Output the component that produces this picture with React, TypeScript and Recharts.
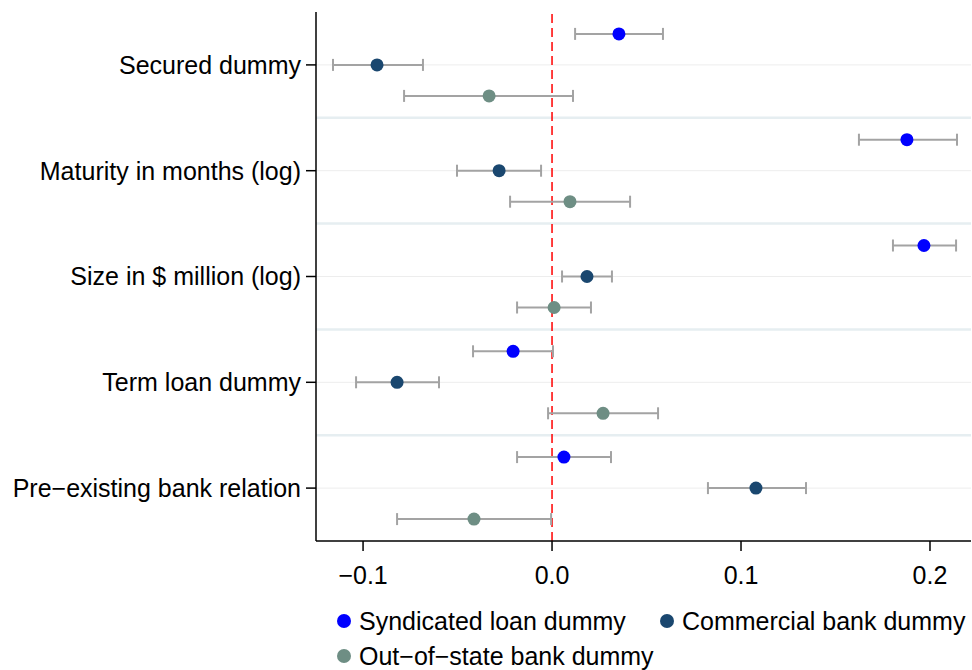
import React from 'react'
import {
    ScatterChart,
    Scatter,
    XAxis,
    YAxis,
    ErrorBar,
    ReferenceLine
} from 'recharts'

// regressors, top to bottom
const variables = [
    'Secured dummy',
    'Maturity in months (log)',
    'Size in $ million (log)',
    'Term loan dummy',
    'Pre\u2212existing bank relation'
]

// point estimates and confidence bounds per model
const syndCoef = [0.0354, 0.1878, 0.1968, -0.0206, 0.0063]
const syndLow = [0.0122, 0.1624, 0.1804, -0.0418, -0.0185]
const syndHigh = [0.0587, 0.2143, 0.2138, 0.0005, 0.0312]

const commCoef = [-0.0926, -0.028, 0.0185, -0.082, 0.1079]
const commLow = [-0.1159, -0.0503, 0.0053, -0.1037, 0.0825]
const commHigh = [-0.0683, -0.0058, 0.0317, -0.0598, 0.1344]

const oosCoef = [-0.0333, 0.0095, 0.0011, 0.027, -0.0413]
const oosLow = [-0.0783, -0.0222, -0.0185, -0.0021, -0.082]
const oosHigh = [0.0111, 0.0413, 0.0206, 0.0561, -0.0005]

const xTicks = [-0.1, 0, 0.1, 0.2]

const FONT = '"Liberation Sans", Arial, Helvetica, sans-serif'
const BAR_GRAY = '#a3a3a3'

const series = [
    { name: 'Syndicated loan dummy', color: '#0000ff', coef: syndCoef, low: syndLow, high: syndHigh, shift: -0.293 },
    { name: 'Commercial bank dummy', color: '#1a476f', coef: commCoef, low: commLow, high: commHigh, shift: 0 },
    { name: 'Out\u2212of\u2212state bank dummy', color: '#6e8e84', coef: oosCoef, low: oosLow, high: oosHigh, shift: 0.293 }
]

function buildPoints(coef: number[], low: number[], high: number[], shift: number) {
    return coef.map((c, i) => ({
        x: c,
        y: i + 0.5 + shift,
        err: [c - low[i], high[i] - c]
    }))
}

const fmtX = (v: number) => (v < 0 ? '\u2212' + Math.abs(v).toFixed(1) : v.toFixed(1))

function Dot(color: string) {
    return (props: any) => <circle cx={props.cx} cy={props.cy} r={6.5} fill={color} />
}

export default function App() {
    return (
        <div style={{ position: 'relative', width: 972, height: 670, fontFamily: FONT, background: '#fff' }}>
            <style>{'body { margin: 0; }'}</style>
            <ScatterChart
                width={972}
                height={591}
                margin={{ top: 12, right: 1, bottom: 0, left: 0 }}
            >
                <XAxis
                    type="number"
                    dataKey="x"
                    domain={[-0.1249, 0.2217]}
                    allowDataOverflow
                    ticks={xTicks}
                    tickFormatter={fmtX}
                    height={50}
                    tickSize={10}
                    tickMargin={15}
                    stroke="#000"
                    strokeWidth={1.5}
                    tick={{ fill: '#000', fontSize: 25, fontFamily: FONT }}
                />
                <YAxis
                    type="number"
                    dataKey="y"
                    domain={[0, 5]}
                    reversed
                    ticks={[0.5, 1.5, 2.5, 3.5, 4.5]}
                    tickFormatter={(v: number) => variables[Math.floor(v)]}
                    width={316}
                    tickSize={10}
                    tickMargin={5}
                    stroke="#000"
                    strokeWidth={1.5}
                    interval={0}
                    tick={{ fill: '#000', fontSize: 25, fontFamily: FONT }}
                />
                {[0.5, 1.5, 2.5, 3.5, 4.5].map((v) => (
                    <ReferenceLine key={'c' + v} y={v} stroke="#ededed" strokeWidth={1} />
                ))}
                {[1, 2, 3, 4].map((v) => (
                    <ReferenceLine key={'s' + v} y={v} stroke="#e6eef1" strokeWidth={2.5} />
                ))}
                <ReferenceLine x={0} stroke="#ff0000" strokeWidth={1.5} strokeDasharray="9 5" />
                {series.map((s) => (
                    <Scatter
                        key={s.name}
                        name={s.name}
                        data={buildPoints(s.coef, s.low, s.high, s.shift)}
                        fill={s.color}
                        shape={Dot(s.color)}
                        isAnimationActive={false}
                    >
                        <ErrorBar
                            dataKey="err"
                            direction="x"
                            width={6}
                            stroke={BAR_GRAY}
                            strokeWidth={2}
                        />
                    </Scatter>
                ))}
            </ScatterChart>
            {/* legend, two rows */}
            {series.map((s, i) => {
                const left = i === 1 ? 660 : 337
                const top = i === 2 ? 641 : 606
                return (
                    <div
                        key={s.name}
                        style={{
                            position: 'absolute',
                            left,
                            top,
                            display: 'flex',
                            alignItems: 'center',
                            fontSize: 25,
                            lineHeight: '30px',
                            color: '#000',
                            whiteSpace: 'nowrap'
                        }}
                    >
                        <span
                            style={{
                                display: 'inline-block',
                                width: 14,
                                height: 14,
                                borderRadius: 7,
                                background: s.color,
                                marginRight: 8
                            }}
                        />
                        {s.name}
                    </div>
                )
            })}
        </div>
    )
}
